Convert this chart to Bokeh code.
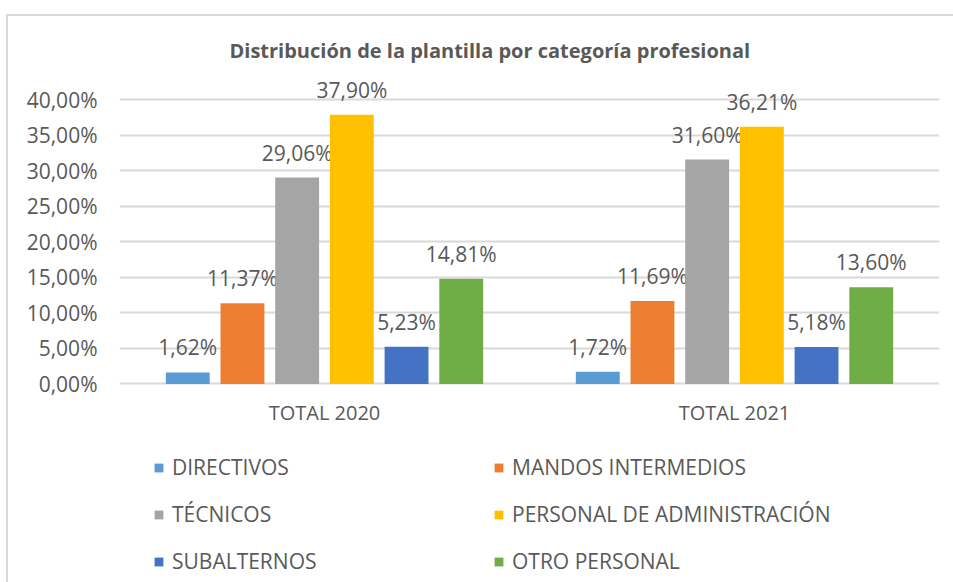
from bokeh.plotting import figure
from bokeh.models import FactorRange, ColumnDataSource, Legend, LegendItem, FixedTicker, Range1d
from bokeh.transform import dodge
from bokeh.embed import file_html
from bokeh.resources import INLINE
from bokeh.core.properties import value

groups = ["TOTAL 2020", "TOTAL 2021"]
categories = ["DIRECTIVOS", "MANDOS INTERMEDIOS", "TÉCNICOS",
              "PERSONAL DE ADMINISTRACIÓN", "SUBALTERNOS", "OTRO PERSONAL"]
values_2020 = [1.62, 11.37, 29.06, 37.90, 5.23, 14.81]
values_2021 = [1.72, 11.69, 31.60, 36.21, 5.18, 13.60]
colors = ["#5B9BD5", "#ED7D31", "#A5A5A5", "#FFC000", "#4472C4", "#70AD47"]
y_ticks = [0, 5, 10, 15, 20, 25, 30, 35, 40]
title_text = "Distribución de la plantilla por categoría profesional"


def fmt(v):
    return f"{v:.2f}".replace(".", ",") + "%"


FONT = "Open Sans"
TEXT = "#595959"

# layout: 7.1 px per percentage point; frame extends below the axis to host the legend
PX_PER = 7.1
FRAME_H = 511
Y_TOP = 44
y_bottom = Y_TOP - FRAME_H / PX_PER

p = figure(x_range=FactorRange(*groups, range_padding=0), y_range=Range1d(y_bottom, Y_TOP),
           frame_width=820, frame_height=FRAME_H,
           min_border_left=111, min_border_right=14, min_border_top=55, min_border_bottom=0,
           output_backend="svg", toolbar_location=None)
p.styles = {"border-top": "2px solid #d9d9d9", "border-left": "2px solid #d9d9d9",
            "margin-top": "14px", "margin-left": "6px"}
p.outline_line_color = None
p.background_fill_color = "white"
p.border_fill_color = "white"

p.title.text = title_text
p.title.align = "left"
p.title.offset = 110
p.title.standoff = 16
p.title.text_font = FONT
p.title.text_font_size = "20px"
p.title.text_font_style = "bold"
p.title.text_color = TEXT

p.xgrid.grid_line_color = None
p.ygrid.grid_line_color = "#d9d9d9"
p.ygrid.grid_line_width = 2

p.xaxis.visible = False
p.yaxis.ticker = FixedTicker(ticks=y_ticks)
p.yaxis.major_label_overrides = {t: fmt(t) for t in y_ticks}
ax = p.yaxis[0]
ax.axis_line_color = None
ax.major_tick_line_color = None
ax.minor_tick_line_color = None
ax.major_tick_in = 0
ax.major_tick_out = 0
ax.major_label_text_font = FONT
ax.major_label_text_color = TEXT
ax.major_label_text_font_size = "21px"
ax.major_label_standoff = 22

# category (group) labels under the baseline
gsrc = ColumnDataSource(dict(x=groups, y=[0] * len(groups)))
p.text(x="x", y="y", text="x", source=gsrc, text_align="center", text_baseline="middle",
       y_offset=29, text_font=value(FONT), text_font_size="20px", text_color=TEXT)

slot = 0.1334
bar_w = 0.107
items = []
for i, (cat, col) in enumerate(zip(categories, colors)):
    vals = [values_2020[i], values_2021[i]]
    src = ColumnDataSource(dict(x=groups, y=vals, label=[fmt(v) for v in vals]))
    off = (i - 2.5) * slot
    r = p.vbar(x=dodge("x", off, range=p.x_range), top="y", width=bar_w, source=src,
               fill_color=col, line_color=None)
    p.text(x=dodge("x", off, range=p.x_range), y="y", text="label", source=src,
           text_align="center", text_baseline="alphabetic", y_offset=-25,
           text_font=value(FONT), text_font_size="21px", text_color=TEXT)
    items.append(LegendItem(label=cat, renderers=[r]))

legend = Legend(items=items, location=(34, 7), orientation="horizontal", ncols=2,
                glyph_width=11, glyph_height=11, label_standoff=8, label_width=302,
                label_height=26, spacing=19, padding=0, margin=0,
                border_line_color=None, background_fill_alpha=0,
                label_text_font=FONT, label_text_font_size="21px", label_text_color=TEXT)
p.add_layout(legend, "center")

open("out.html", "w").write(file_html(p, INLINE))
